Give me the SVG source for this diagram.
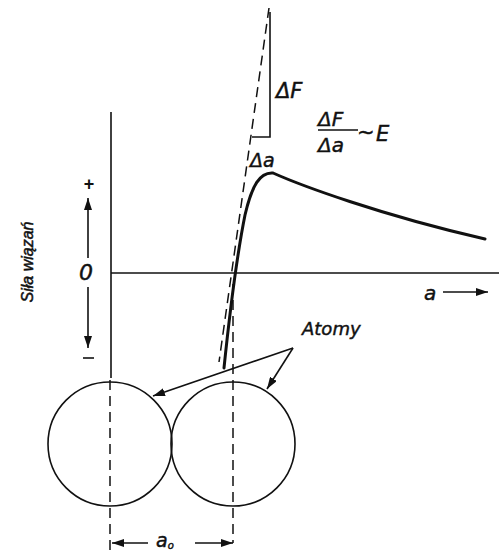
<svg xmlns="http://www.w3.org/2000/svg" width="499" height="550" viewBox="0 0 499 550">
<style>
.t{font-family:"DejaVu Sans","Liberation Sans",Arial,sans-serif;font-style:italic;fill:#111;stroke:#111;stroke-width:0.45}
.ln{stroke:#111;fill:none;stroke-width:1.6}
.dash{stroke:#111;fill:none;stroke-width:1.5;stroke-dasharray:10 6}
</style>
<defs>
<marker id="ah" viewBox="0 0 12 8" refX="12" refY="4" markerWidth="12" markerHeight="8" markerUnits="userSpaceOnUse" orient="auto">
<path d="M0,0 L12,4 L0,8 Z" fill="#111"/>
</marker>
</defs>
<rect width="499" height="550" fill="#fff"/>
<g id="axes">
<line class="ln" x1="111" y1="112" x2="111" y2="378" stroke-width="2"/>
<line class="ln" x1="111" y1="273" x2="499" y2="273" stroke-width="2"/>
</g>
<g id="tangent">
<line class="dash" x1="269" y1="8" x2="219" y2="362"/>
<polyline class="ln" points="252,137 270,137 270,12"/>
<text class="t" x="276" y="98" font-size="21">ΔF</text>
<text class="t" x="250" y="167" font-size="19">Δa</text>
</g>
<g id="formula">
<text class="t" x="318" y="126" font-size="20">ΔF</text>
<line class="ln" x1="318" y1="130" x2="358" y2="130" stroke-width="1.8"/>
<text class="t" x="318" y="152" font-size="20">Δa</text>
<text class="t" x="357" y="139" font-size="21">~</text>
<text class="t" x="376" y="141" font-size="21">E</text>
</g>
<g id="curve">
<path d="M224,368 C230,310 236,260 245,215 C252,185 260,172 273,173 C300,185 380,215 485,239" fill="none" stroke="#111" stroke-width="3" stroke-linecap="round"/>
</g>
<g id="ylabels">
<text x="89" y="190" font-size="18" text-anchor="middle" font-family="Liberation Sans,Arial,sans-serif" font-weight="bold" fill="#111">+</text>
<line class="ln" x1="88" y1="258" x2="88" y2="198" marker-end="url(#ah)" stroke-width="1.3"/>
<text class="t" x="86" y="280" font-size="22" text-anchor="middle">0</text>
<line class="ln" x1="88" y1="287" x2="88" y2="348" marker-end="url(#ah)" stroke-width="1.3"/>
<line class="ln" x1="83" y1="358" x2="94" y2="358" stroke-width="2"/>
<text x="0" y="0" font-size="16" text-anchor="middle" font-family="Liberation Sans,Arial,sans-serif" font-style="italic" fill="#111" stroke="#111" stroke-width="0.5" transform="translate(33,262) rotate(-90)">Siła wiązań</text>
</g>
<g id="xlabel">
<text class="t" x="424" y="300" font-size="20">a</text>
<line class="ln" x1="443" y1="292" x2="488" y2="292" marker-end="url(#ah)" stroke-width="1.8"/>
</g>
<g id="atoms">
<circle class="ln" cx="110" cy="444" r="62" stroke-width="1.4"/>
<circle class="ln" cx="233" cy="444" r="62" stroke-width="1.4"/>
</g>
<g id="atomy-label">
<text class="t" x="302" y="335" font-size="18">Atomy</text>
</g>
<g id="connectors">
<line class="ln" x1="293" y1="348" x2="153" y2="396" marker-end="url(#ah)" stroke-width="1.4"/>
<line class="ln" x1="293" y1="348" x2="267" y2="389" marker-end="url(#ah)" stroke-width="1.4"/>
<line class="dash" x1="110" y1="380" x2="110" y2="550"/>
<line class="dash" x1="233" y1="284" x2="233" y2="543"/>
<line class="ln" x1="148" y1="543" x2="112" y2="543" marker-end="url(#ah)"/>
<line class="ln" x1="195" y1="543" x2="233" y2="543" marker-end="url(#ah)"/>
<text class="t" x="156" y="547" font-size="19">a<tspan font-size="10" dy="2">o</tspan></text>
</g>
</svg>
